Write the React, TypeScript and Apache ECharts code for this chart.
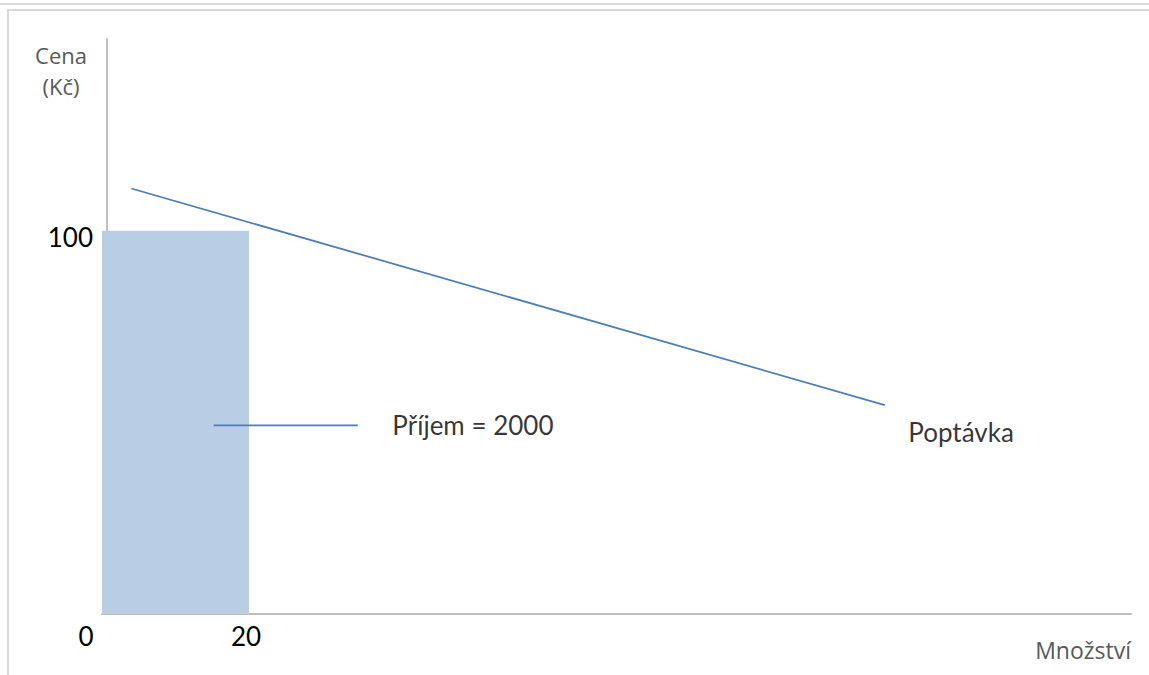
import React, { useEffect, useRef } from "react";
import * as echarts from "echarts";

// Revenue rectangle: quantity sold and price
const revenueQuantity = 20;
const revenuePrice = 100;

// Demand curve end points (quantity, price)
const demandQuantity = [4, 106.5];
const demandPrice = [111, 54.5];

// Leader line from the revenue rectangle to its label
const leaderQuantity = [15.2, 34.8];
const leaderPrice = [49.2, 49.2];

// Label anchors
const labelNames = [`Příjem = ${revenueQuantity * revenuePrice}`, "Poptávka"];
const labelQuantity = [39.5, 109.7];
const labelPrice = [49.2, 47.6];

// Tick labels shown on the axes
const xTickLabels = [0, 20];
const yTickLabels = [100];

const axisGrey = "#bfbfbf";
const frameGrey = "#d9d9d9";
const lineBlue = "#4a7ebb";
const labelFont = "Lato, 'Liberation Sans', sans-serif";
const titleFont = "'Open Sans', 'Noto Sans', sans-serif";

export default function App() {
  const ref = useRef<HTMLDivElement>(null);

  useEffect(() => {
    if (!ref.current) return;
    document.body.style.margin = "0";
    document.body.style.overflow = "hidden";
    const chart = echarts.init(ref.current, undefined, { renderer: "svg" });

    const option: echarts.EChartsOption = {
      animation: false,
      backgroundColor: "#ffffff",
      grid: { left: 102, right: 18, top: 39, bottom: 61, containLabel: false },
      xAxis: {
        type: "value",
        min: 0,
        max: 140,
        interval: 20,
        name: "Množství",
        nameLocation: "end",
        nameGap: 0,
        nameTextStyle: {
          fontFamily: titleFont,
          fontSize: 23,
          color: "#595959",
          align: "right",
          verticalAlign: "top",
          padding: [24, 0, 0, 0],
        },
        axisLine: { show: true, lineStyle: { color: axisGrey, width: 2 } },
        axisTick: { show: false },
        splitLine: { show: false },
        axisLabel: {
          margin: 9,
          formatter: (v: number) => {
            if (!xTickLabels.includes(v)) return "";
            return v === 0 ? `{zero|${v}}` : `{tick|${v}}`;
          },
          rich: {
            zero: {
              fontFamily: labelFont,
              fontSize: 26,
              color: "#000000",
              padding: [0, 32, 0, 0],
            },
            tick: {
              fontFamily: labelFont,
              fontSize: 26,
              color: "#000000",
              padding: [0, 6, 0, 0],
            },
          },
        },
      },
      yAxis: {
        type: "value",
        min: 0,
        max: 150,
        interval: 50,
        offset: -5,
        name: "Cena\n(Kč)",
        nameLocation: "end",
        nameGap: 0,
        nameTextStyle: {
          fontFamily: titleFont,
          fontSize: 22,
          lineHeight: 31,
          color: "#595959",
          align: "center",
          verticalAlign: "top",
          padding: [0, 92, 0, 0],
        },
        axisLine: { show: true, lineStyle: { color: axisGrey, width: 2 } },
        axisTick: { show: false },
        splitLine: { show: false },
        axisLabel: {
          margin: 14,
          formatter: (v: number) => (yTickLabels.includes(v) ? `{t|${v}}` : ""),
          rich: {
            t: {
              fontFamily: labelFont,
              fontSize: 26,
              color: "#000000",
              padding: [12, 0, 0, 0],
            },
          },
        },
      },
      series: [
        {
          type: "custom",
          name: "Příjem",
          z: 2,
          data: [[0, 0, revenueQuantity, revenuePrice]],
          renderItem: (params: any, api: any) => {
            const p0 = api.coord([api.value(0), api.value(1)]);
            const p1 = api.coord([api.value(2), api.value(3)]);
            return {
              type: "rect",
              shape: {
                x: p0[0],
                y: p1[1],
                width: p1[0] - p0[0],
                height: p0[1] - p1[1],
              },
              style: { fill: "#b9cde5" },
            };
          },
        },
        {
          type: "line",
          name: "Poptávka",
          z: 3,
          data: demandQuantity.map((q, i) => [q, demandPrice[i]]),
          showSymbol: false,
          symbol: "none",
          lineStyle: { color: lineBlue, width: 1.75 },
        },
        {
          type: "line",
          name: "leader",
          z: 3,
          data: leaderQuantity.map((q, i) => [q, leaderPrice[i]]),
          showSymbol: false,
          symbol: "none",
          lineStyle: { color: lineBlue, width: 1.75 },
        },
        {
          type: "scatter",
          name: "labels",
          z: 4,
          symbolSize: 0,
          data: labelNames.map((n, i) => ({
            name: n,
            value: [labelQuantity[i], labelPrice[i]],
          })),
          label: {
            show: true,
            position: "right",
            distance: 0,
            formatter: (p: any) => p.name,
            fontFamily: labelFont,
            fontSize: 26,
            color: "#000000",
          },
        },
      ],
    };

    chart.setOption(option);
    return () => chart.dispose();
  }, []);

  const frameLine: React.CSSProperties = {
    position: "absolute",
    background: frameGrey,
    pointerEvents: "none",
  };

  return (
    <div style={{ position: "fixed", left: 0, top: 0, width: 1149, height: 675, overflow: "hidden" }}>
      <div ref={ref} style={{ position: "absolute", left: 0, top: 0, width: 1149, height: 675 }} />
      <div style={{ ...frameLine, left: 0, top: 3, width: 1149, height: 2 }} />
      <div style={{ ...frameLine, left: 7, top: 9, width: 1142, height: 2 }} />
      <div style={{ ...frameLine, left: 7, top: 9, width: 2, height: 666 }} />
    </div>
  );
}
